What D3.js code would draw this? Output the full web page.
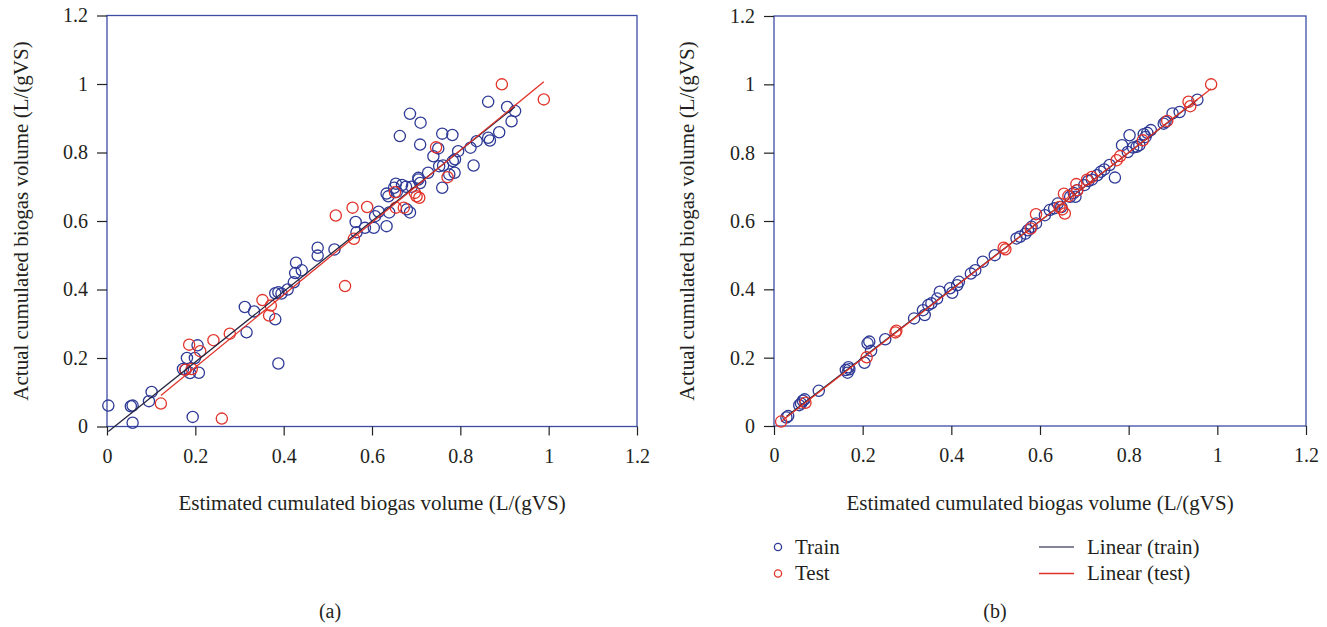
<!DOCTYPE html>
<html lang="en">
<head>
<meta charset="utf-8" />
<title>Estimated vs actual cumulated biogas volume</title>
<script src="https://cdn.jsdelivr.net/npm/d3@7"></script>
<style>
  body { margin: 0; background: #fff; }
  svg text { font-family: 'Liberation Serif', 'DejaVu Serif', serif; fill: #231f20; }
</style>
</head>
<body>
<svg id="chart" width="1327" height="627"></svg>
<script>
var ticks = [0, 0.2, 0.4, 0.6, 0.8, 1, 1.2]
var xTitle = 'Estimated cumulated biogas volume (L/(gVS)'
var yTitle = 'Actual cumulated biogas volume (L/(gVS)'
var legendLabels = ['Train', 'Test', 'Linear (train)', 'Linear (test)']

// [estimated, actual] pairs, panel (a)
var trainA = [
  [0.003, 0.061], [0.054, 0.059], [0.058, 0.061], [0.058, 0.011], [0.095, 0.074], [0.101, 0.101],
  [0.194, 0.028], [0.172, 0.168], [0.178, 0.166], [0.181, 0.2], [0.188, 0.156], [0.199, 0.2],
  [0.205, 0.237], [0.208, 0.157], [0.312, 0.349], [0.333, 0.336], [0.316, 0.275], [0.381, 0.313],
  [0.388, 0.184], [0.381, 0.389], [0.388, 0.392], [0.395, 0.388], [0.409, 0.4], [0.423, 0.421],
  [0.426, 0.448], [0.441, 0.456], [0.428, 0.478], [0.477, 0.522], [0.477, 0.499], [0.515, 0.517],
  [0.563, 0.597], [0.565, 0.567], [0.584, 0.58], [0.604, 0.58], [0.633, 0.585], [0.607, 0.614],
  [0.615, 0.627], [0.639, 0.625], [0.633, 0.68], [0.637, 0.672], [0.654, 0.709], [0.656, 0.685],
  [0.65, 0.697], [0.668, 0.705], [0.677, 0.7], [0.69, 0.7], [0.679, 0.634], [0.686, 0.625],
  [0.705, 0.726], [0.709, 0.711], [0.705, 0.721], [0.727, 0.741], [0.663, 0.848], [0.686, 0.913],
  [0.71, 0.887], [0.709, 0.823], [0.739, 0.789], [0.75, 0.812], [0.759, 0.855], [0.782, 0.851],
  [0.761, 0.762], [0.752, 0.76], [0.759, 0.697], [0.775, 0.736], [0.783, 0.775], [0.788, 0.78],
  [0.787, 0.741], [0.795, 0.804], [0.823, 0.814], [0.83, 0.762], [0.837, 0.833], [0.863, 0.843],
  [0.867, 0.835], [0.863, 0.948], [0.888, 0.859], [0.906, 0.933], [0.924, 0.921], [0.916, 0.891]
]
var testA = [
  [0.122, 0.067], [0.26, 0.023], [0.186, 0.239], [0.177, 0.166], [0.192, 0.168], [0.211, 0.22],
  [0.241, 0.252], [0.278, 0.271], [0.352, 0.369], [0.371, 0.353], [0.367, 0.324], [0.518, 0.616],
  [0.556, 0.639], [0.589, 0.641], [0.539, 0.41], [0.559, 0.548], [0.652, 0.684], [0.654, 0.639],
  [0.672, 0.639], [0.697, 0.682], [0.701, 0.672], [0.707, 0.668], [0.745, 0.815], [0.771, 0.728],
  [0.894, 0.999], [0.989, 0.955]
]

// panel (b)
var trainB = [
  [0.028, 0.025], [0.032, 0.029], [0.057, 0.061], [0.061, 0.066], [0.065, 0.074], [0.069, 0.078],
  [0.101, 0.103], [0.162, 0.164], [0.168, 0.172], [0.166, 0.156], [0.17, 0.166], [0.211, 0.242],
  [0.215, 0.247], [0.204, 0.185], [0.219, 0.22], [0.251, 0.254], [0.316, 0.315], [0.336, 0.339],
  [0.34, 0.325], [0.348, 0.354], [0.355, 0.359], [0.368, 0.373], [0.374, 0.393], [0.397, 0.403],
  [0.402, 0.39], [0.417, 0.422], [0.413, 0.412], [0.444, 0.446], [0.454, 0.456], [0.471, 0.481],
  [0.498, 0.5], [0.547, 0.549], [0.555, 0.554], [0.567, 0.563], [0.573, 0.573], [0.581, 0.583],
  [0.591, 0.593], [0.611, 0.617], [0.622, 0.632], [0.632, 0.637], [0.64, 0.651], [0.648, 0.641],
  [0.668, 0.671], [0.676, 0.682], [0.684, 0.69], [0.68, 0.671], [0.7, 0.705], [0.709, 0.717],
  [0.717, 0.721], [0.729, 0.734], [0.737, 0.744], [0.745, 0.751], [0.757, 0.764], [0.769, 0.727],
  [0.785, 0.822], [0.802, 0.851], [0.798, 0.802], [0.81, 0.815], [0.818, 0.817], [0.824, 0.822],
  [0.834, 0.854], [0.842, 0.858], [0.838, 0.846], [0.85, 0.866], [0.879, 0.885], [0.883, 0.89],
  [0.899, 0.915], [0.915, 0.919], [0.955, 0.955]
]
var testB = [
  [0.016, 0.013], [0.071, 0.068], [0.209, 0.201], [0.274, 0.274], [0.276, 0.279], [0.518, 0.522],
  [0.522, 0.517], [0.579, 0.578], [0.591, 0.62], [0.644, 0.641], [0.65, 0.634], [0.656, 0.622],
  [0.654, 0.68], [0.664, 0.673], [0.682, 0.708], [0.684, 0.69], [0.706, 0.721], [0.717, 0.729],
  [0.773, 0.778], [0.781, 0.79], [0.832, 0.836], [0.887, 0.893], [0.935, 0.949], [0.939, 0.936],
  [0.986, 1.0]
]

// linear trendlines [slope, intercept]
var trainFitA = [1.03, -0.018]
var testFitA = [1.056, -0.038]
var trainFitB = [1.0, 0.0]
var testFitB = [1.004, -0.003]

var blue = '#2e3a96'
var red = '#e2332a'
var frameColor = '#3c4ca6'
var trainLine = '#262640'

var svg = d3.select('#chart')

function drawPanel(left, right, top, bottom, train, test, trainFit, testFit, yTitleX, tag, tagX) {
  var x = d3.scaleLinear().domain([0, 1.2]).range([left, right])
  var y = d3.scaleLinear().domain([0, 1.2]).range([bottom, top])
  var g = svg.append('g')

  // frame
  g.append('rect')
    .attr('x', left).attr('y', top)
    .attr('width', right - left).attr('height', bottom - top)
    .attr('fill', 'none').attr('stroke', frameColor).attr('stroke-width', 1.3)

  var xAxis = g.append('g')
    .attr('transform', 'translate(0,' + bottom + ')')
    .call(d3.axisBottom(x).tickValues(ticks).tickFormat(function (d) { return String(d) }).tickSize(9).tickPadding(13))
  var yAxis = g.append('g')
    .attr('transform', 'translate(' + left + ',0)')
    .call(d3.axisLeft(y).tickValues(ticks).tickFormat(function (d) { return String(d) }).tickSize(10).tickPadding(9))
  ;[xAxis, yAxis].forEach(function (a) {
    a.select('.domain').remove()
    a.selectAll('line').attr('stroke', '#222').attr('stroke-width', 1.2)
    a.selectAll('text').attr('font-size', 20).attr('font-family', null).attr('fill', '#231f20')
  })

  g.append('text')
    .attr('x', (left + right) / 2).attr('y', 510)
    .attr('text-anchor', 'middle').attr('font-size', 21)
    .text(xTitle)
  g.append('text')
    .attr('transform', 'translate(' + yTitleX + ',' + (top + bottom) / 2 + ') rotate(-90)')
    .attr('text-anchor', 'middle').attr('font-size', 21)
    .text(yTitle)
  g.append('text')
    .attr('x', tagX).attr('y', 618)
    .attr('text-anchor', 'middle').attr('font-size', 20)
    .text(tag)

  // trendlines over each series' x range
  function fitLine(data, fit, color) {
    var ext = d3.extent(data, function (d) { return d[0] })
    g.append('line')
      .attr('x1', x(ext[0])).attr('y1', y(fit[0] * ext[0] + fit[1]))
      .attr('x2', x(ext[1])).attr('y2', y(fit[0] * ext[1] + fit[1]))
      .attr('stroke', color).attr('stroke-width', 1.3)
  }

  function dots(data, color) {
    g.append('g').selectAll('circle')
      .data(data)
      .enter()
      .append('circle')
      .attr('cx', function (d) { return x(d[0]) })
      .attr('cy', function (d) { return y(d[1]) })
      .attr('r', 5.6)
      .attr('fill', 'none')
      .attr('stroke', color)
      .attr('stroke-width', 1.3)
  }

  dots(train, blue)
  dots(test, red)
  fitLine(train, trainFit, trainLine)
  fitLine(test, testFit, red)
}

drawPanel(107, 637, 15.5, 426.5, trainA, testA, trainFitA, testFitA, 28, '(a)', 330)
drawPanel(774, 1306, 16, 426, trainB, testB, trainFitB, testFitB, 694, '(b)', 995)

// legend under panel (b)
var legend = svg.append('g')
var markerColors = [blue, red]
var lineColors = ['#5b5b78', red]
markerColors.forEach(function (c, i) {
  var ly = 547 + i * 26.5
  legend.append('circle')
    .attr('cx', 778).attr('cy', ly).attr('r', 3.6)
    .attr('fill', 'none').attr('stroke', c).attr('stroke-width', 1.3)
  legend.append('text')
    .attr('x', 795).attr('y', ly + 6.5).attr('font-size', 21)
    .text(legendLabels[i])
  legend.append('line')
    .attr('x1', 1039).attr('x2', 1074).attr('y1', ly).attr('y2', ly)
    .attr('stroke', lineColors[i]).attr('stroke-width', 1.3)
  legend.append('text')
    .attr('x', 1087).attr('y', ly + 6.5).attr('font-size', 21)
    .text(legendLabels[i + 2])
})
</script>
</body>
</html>
